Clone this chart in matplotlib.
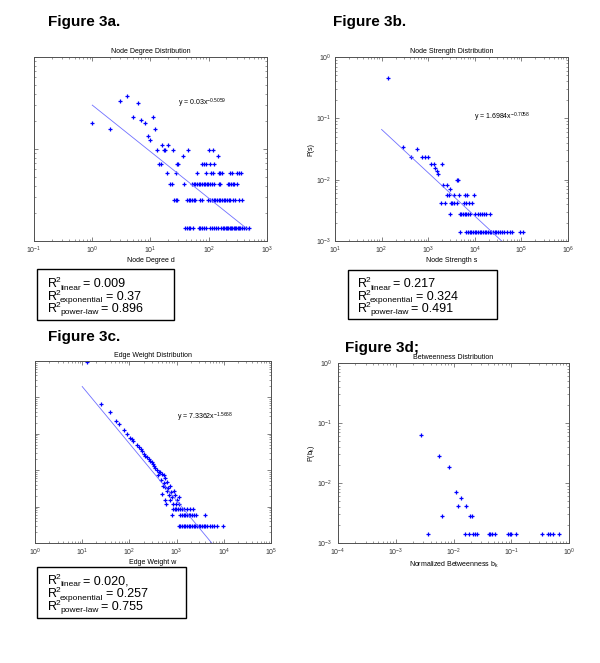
import numpy as np
import matplotlib
matplotlib.use("Agg")
import matplotlib.pyplot as plt
from matplotlib.patches import Rectangle

plt.rcParams['font.family'] = ['Liberation Sans', 'DejaVu Sans']
plt.rcParams['mathtext.fontset'] = 'custom'
plt.rcParams['mathtext.rm'] = 'Liberation Sans'
plt.rcParams['mathtext.it'] = 'Liberation Sans:italic'
plt.rcParams['mathtext.default'] = 'regular'

W, H = 600, 663  # figure size in pixels

# ---- Figure 3a: node degree distribution (count of nodes per degree) ----
N_NODES = 722
a_deg_top = [1, 2, 3, 4, 5, 6, 7, 8, 9, 10, 11, 12, 13, 16, 17, 18, 20, 24, 36, 44, 102, 116, 142]
a_cnt_top = [14, 12, 24, 27, 16, 23, 15, 14, 10, 9, 16, 12, 7, 8, 7, 7, 8, 7, 6, 7, 7, 7, 6]
a_deg_c5 = [14, 15, 28, 30, 76, 84, 91, 106, 121]
a_deg_c4 = [19, 27, 63, 89, 109, 118, 148, 158, 168, 228, 250, 305, 334, 361]
a_deg_c3 = [22, 23, 37, 51, 55, 59, 63, 67, 71, 76, 82, 87, 93, 99, 106, 113, 124,
            148, 158, 211, 225, 240, 257, 274, 305]
a_deg_c2 = [25, 27, 28, 42, 45, 48, 51, 55, 59, 71, 76, 99, 106, 113, 121, 129, 138,
            148, 158, 168, 180, 192, 205, 219, 234, 260, 285, 325, 371]
a_deg_c1 = [39, 42, 45, 48, 53, 67, 71, 77, 84, 91, 106, 113, 124, 135, 146, 162, 175,
            185, 195, 205, 216, 228, 240, 253, 267, 281, 297, 313, 330, 347, 366, 396,
            440, 483]
a_fit = (0.03, -0.5059)
a_r2 = ["0.009", "0.37", "0.896"]

# ---- Figure 3b: node strength distribution ----
b_s_top = [140, 284, 423, 569, 728, 859, 980, 1156, 1318, 1959, 1409, 1531, 1663,
           4121, 4398, 2128, 2512, 2958]
b_cnt_top = [328, 25, 17, 23, 17, 17, 17, 13, 13, 13, 11, 10, 9, 7, 7, 6, 6, 5]
b_s_c4 = [2512, 2727, 3491, 4625, 6013, 6761, 9706]
b_s_c3 = [1866, 2238, 3112, 3322, 3667, 4121, 5729, 6537, 7333, 8646]
b_s_c2 = [2866, 4700, 5105, 5543, 6013, 6537, 7096, 7706, 10210, 11460, 12650, 14190,
          15920, 17580, 21430]
b_s_c1 = [4850, 6530, 7100, 7710, 8370, 9080, 9860, 10700, 11630, 12640, 13730, 14900,
          16180, 17580, 19100, 20740, 22520, 24460, 26560, 28840, 31320, 34020, 38190,
          42870, 48880, 55740, 62600, 94600, 108000]
b_fit = (1.6984, -0.7058)
b_r2 = ["0.217", "0.324", "0.491"]

# ---- Figure 3c: edge weight distribution ----
N_EDGES = 34000
c_w_top = [12.9, 25.1, 39.0, 51.5, 61.6, 77.3, 88.1, 104, 112, 122, 144, 156, 175, 189,
           199, 216, 234, 254, 275, 299, 314, 335, 352, 381, 414, 449, 487, 394, 528,
           573, 471, 528, 622, 503, 573, 653, 731, 622, 755, 861, 487, 674, 794, 934,
           573, 731, 1014, 1100]
c_p_top = [0.96, 0.0641, 0.0387, 0.0228, 0.0181, 0.0126, 0.00979, 0.00744, 0.00698,
           0.00642, 0.00488, 0.00439, 0.00371, 0.00340, 0.00276, 0.00248, 0.00233,
           0.00197, 0.00181, 0.00170, 0.00146, 0.00129, 0.00118, 0.00104, 0.000899,
           0.000899, 0.000809, 0.000728, 0.000728, 0.000628, 0.000531, 0.000448,
           0.000477, 0.000363, 0.000348, 0.000327, 0.000363, 0.000270, 0.000253,
           0.000270, 0.000228, 0.000205, 0.000185, 0.000205, 0.000149, 0.000156,
           0.000156, 0.000185]
c_w_c4 = [592, 833, 965, 1135]
c_w_c3 = [833, 903, 980, 1064, 1154, 1294, 1449, 1652, 1944, 2215]
c_w_c2 = [794, 1192, 1294, 1403, 1522, 1652, 1791, 1944, 2108, 2286, 2563, 4045]
c_w_c1 = [1100, 1192, 1294, 1403, 1522, 1652, 1791, 1944, 2108, 2286, 2481, 2692, 2919,
          3167, 3435, 3726, 4045, 4385, 5000, 5600, 6280, 7150, 9590]
c_fit = (7.3362, -1.5668)
c_r2 = ["0.020,", "0.257", "0.755"]

# ---- Figure 3d: betweenness distribution ----
N_BTW = 716
d_b_top = [2.70e-3, 5.53e-3, 8.24e-3, 0.01104, 0.01367, 0.01197, 0.01644, 0.01932,
           0.02118, 6.33e-3]
d_cnt_top = [45, 20, 13, 5, 4, 3, 3, 2, 2, 2]
d_b_c1 = [3.66e-3, 0.0156, 0.01854, 0.02178, 0.02357, 0.02519, 0.04063, 0.04345,
          0.04702, 0.0516, 0.0879, 0.0939, 0.1003, 0.1224, 0.345, 0.4325, 0.4752,
          0.5284, 0.662]

MARK = dict(ls='none', marker='+', ms=2.6, mew=0.9, color='#0000ff')
LINE = dict(color='#6f6fff', lw=0.6)
SPINE = '#505050'


def px_axes(fig, l, t, r, b):
    """Add axes from pixel box (left, top, right, bottom)."""
    return fig.add_axes([l / W, 1 - b / H, (r - l) / W, (b - t) / H])


def style_axes(ax, xlim, ylim):
    ax.set_xscale('log')
    ax.set_yscale('log')
    ax.set_xlim(*xlim)
    ax.set_ylim(*ylim)
    for sp in ax.spines.values():
        sp.set_color(SPINE)
        sp.set_linewidth(0.7)
    ax.tick_params(which='both', direction='in', top=True, right=True,
                   colors=SPINE, labelcolor='#333333', labelsize=5)
    ax.tick_params(axis='x', which='both', pad=2.6)
    ax.tick_params(axis='y', which='both', pad=2.6)
    ax.tick_params(which='major', length=3, width=0.5)
    ax.tick_params(which='minor', length=1.5, width=0.4)


def rows(ax, xs_list, counts, total):
    for xs, c in zip(xs_list, counts):
        ax.plot(xs, [c / total] * len(xs), **MARK)


def fit_line(ax, fit, x0, x1):
    x = np.logspace(np.log10(x0), np.log10(x1), 50)
    ax.plot(x, fit[0] * x ** fit[1], **LINE)


def fig_text(fig, px, py, s, **kw):
    return fig.text(px / W, 1 - py / H, s, **kw)


def put(fig, renderer, px, py, s, size):
    """Place a text piece on its baseline, return its right edge in pixels."""
    t = fig_text(fig, px, py, s, fontsize=size, va='baseline', ha='left')
    return t.get_window_extent(renderer).x1


def r2_box(fig, renderer, l, t, r, b, tx, baselines, vals):
    fig.patches.append(Rectangle((l / W, 1 - b / H), (r - l) / W, (b - t) / H,
                                 transform=fig.transFigure, fill=False,
                                 edgecolor='black', lw=1.0))
    names = ['linear', 'exponential', 'power-law']
    for name, v, y in zip(names, vals, baselines):
        x = put(fig, renderer, tx, y, 'R', 9)
        x = put(fig, renderer, x - 1.2, y - 5, '2', 6)
        x = put(fig, renderer, x - 0.5, y + 2.5, name, 6)
        put(fig, renderer, x + 2.5, y, '= ' + v, 9)


fig = plt.figure(figsize=(W / 100, H / 100), dpi=100)
renderer = fig.canvas.get_renderer()

# Figure 3a
ax = px_axes(fig, 34, 57, 267, 241)
style_axes(ax, (1e-1, 1e3), (1e-3, 1e-1))
ax.plot(a_deg_top, np.array(a_cnt_top) / N_NODES, **MARK)
rows(ax, [a_deg_c5, a_deg_c4, a_deg_c3, a_deg_c2, a_deg_c1], [5, 4, 3, 2, 1], N_NODES)
fit_line(ax, a_fit, 1, 500)
ax.tick_params(labelleft=False)
ax.set_title('Node Degree Distribution', fontsize=5, pad=3)
ax.set_xlabel('Node Degree d', fontsize=5, labelpad=1)
ax.text(0.618, 0.734, r'y = 0.03x$^{-0.5059}$', transform=ax.transAxes, fontsize=5)

# Figure 3b
ax = px_axes(fig, 335, 57, 568, 241)
style_axes(ax, (1e1, 1e6), (1e-3, 1e0))
ax.plot(b_s_top, np.array(b_cnt_top) / N_NODES, **MARK)
rows(ax, [b_s_c4, b_s_c3, b_s_c2, b_s_c1], [4, 3, 2, 1], N_NODES)
fit_line(ax, b_fit, 100, 1e5)
ax.set_title('Node Strength Distribution', fontsize=5, pad=3)
ax.set_xlabel('Node Strength s', fontsize=5, labelpad=1)
ax.set_ylabel('P(s)', fontsize=5, labelpad=1)
ax.text(0.597, 0.663, r'y = 1.6984x$^{-0.7058}$', transform=ax.transAxes, fontsize=5)

# Figure 3c
ax = px_axes(fig, 35, 361, 271, 543)
style_axes(ax, (1e0, 1e5), (1e-5, 1e0))
ax.plot(c_w_top, c_p_top, **MARK)
rows(ax, [c_w_c4, c_w_c3, c_w_c2, c_w_c1], [4, 3, 2, 1], N_EDGES)
fit_line(ax, c_fit, 10, 1e4)
ax.tick_params(labelleft=False)
ax.set_title('Edge Weight Distribution', fontsize=5, pad=3)
ax.set_xlabel('Edge Weight w', fontsize=5, labelpad=1)
ax.text(0.602, 0.676, r'y = 7.3362x$^{-1.5668}$', transform=ax.transAxes, fontsize=5)

# Figure 3d
ax = px_axes(fig, 338, 363, 569, 543)
style_axes(ax, (1e-4, 1e0), (1e-3, 1e0))
ax.plot(d_b_top, np.array(d_cnt_top) / N_BTW, **MARK)
rows(ax, [d_b_c1], [1], N_BTW)
ax.tick_params(axis='y', which='both', pad=4)
ax.set_title('Betweenness Distribution', fontsize=5, pad=3)
ax.set_xlabel(r'Normalized Betweenness b$_k$', fontsize=5, labelpad=1)
ax.set_ylabel(r'P(b$_k$)', fontsize=5, labelpad=0)

# panel headings
fig_text(fig, 48, 26, 'Figure 3a.', fontsize=11, fontweight='bold', va='baseline')
fig_text(fig, 333, 26, 'Figure 3b.', fontsize=11, fontweight='bold', va='baseline')
fig_text(fig, 48, 341, 'Figure 3c.', fontsize=11, fontweight='bold', va='baseline')
fig_text(fig, 345, 352, 'Figure 3d;', fontsize=11, fontweight='bold', va='baseline')

# goodness-of-fit boxes
r2_box(fig, renderer, 37, 269, 174, 320, 48, [287, 300, 312], a_r2)
r2_box(fig, renderer, 348, 270, 497, 319, 358, [287, 300, 312], b_r2)
r2_box(fig, renderer, 37, 567, 186, 618, 48, [584, 597, 610], c_r2)

fig.savefig('out.png', dpi=100)
